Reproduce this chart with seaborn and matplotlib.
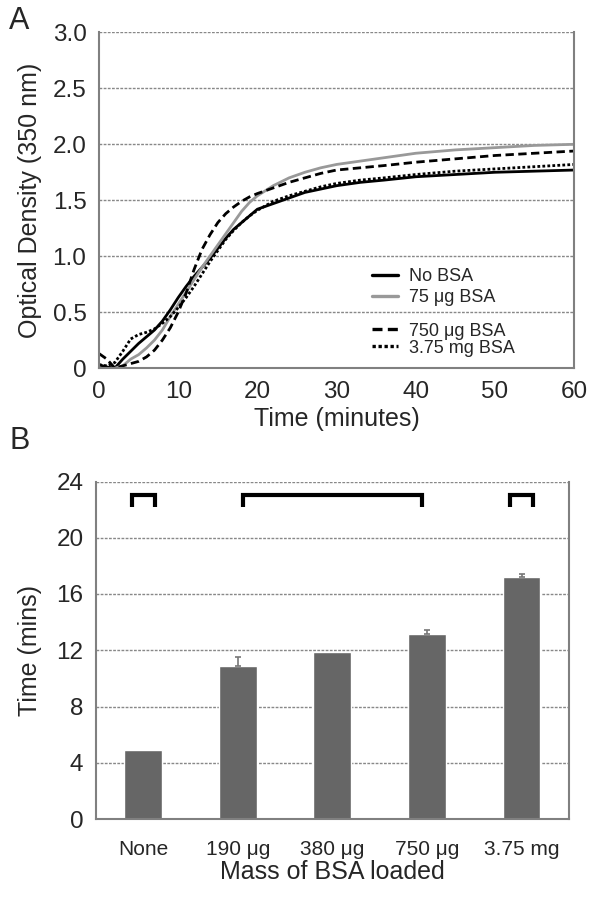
import numpy as np
import pandas as pd
import matplotlib
matplotlib.use("Agg")
import matplotlib.pyplot as plt
import seaborn as sns
from matplotlib.lines import Line2D

# --------------------------------------------------------------
# Data
# --------------------------------------------------------------
time_min = [0, 1, 2, 3, 4, 5, 6, 7, 8, 9, 10, 11, 12, 13, 14, 15, 16, 17, 18, 19, 20,
            22, 24, 26, 28, 30, 33, 36, 40, 45, 50, 55, 60]

od_no_bsa = [0.03, 0.01, 0.00, 0.08, 0.15, 0.22, 0.28, 0.34, 0.42, 0.52, 0.63, 0.73, 0.82,
             0.90, 0.98, 1.07, 1.16, 1.24, 1.30, 1.36, 1.42, 1.47, 1.52, 1.57, 1.60, 1.63,
             1.66, 1.68, 1.71, 1.73, 1.75, 1.76, 1.77]
od_75ug = [np.nan, np.nan, 0.00, 0.02, 0.08, 0.12, 0.18, 0.25, 0.34, 0.46, 0.57, 0.68, 0.79,
           0.90, 1.00, 1.10, 1.20, 1.30, 1.40, 1.48, 1.54, 1.63, 1.70, 1.75, 1.79, 1.82,
           1.85, 1.88, 1.92, 1.95, 1.97, 1.99, 2.00]
od_750ug = [0.13, 0.08, 0.00, 0.02, 0.04, 0.06, 0.10, 0.16, 0.25, 0.36, 0.50, 0.67, 0.88,
            1.06, 1.19, 1.30, 1.38, 1.44, 1.49, 1.53, 1.56, 1.61, 1.66, 1.70, 1.74, 1.77,
            1.79, 1.81, 1.84, 1.87, 1.90, 1.92, 1.94]
od_375mg = [0.03, 0.02, 0.05, 0.15, 0.26, 0.30, 0.32, 0.35, 0.40, 0.46, 0.54, 0.63, 0.73,
            0.84, 0.95, 1.05, 1.15, 1.23, 1.30, 1.36, 1.41, 1.49, 1.54, 1.58, 1.62, 1.65,
            1.68, 1.70, 1.73, 1.76, 1.78, 1.80, 1.82]

series_names = ["No BSA", "75 \u03bcg BSA", "750 \u03bcg BSA", "3.75 mg BSA"]
series_values = [od_no_bsa, od_75ug, od_750ug, od_375mg]
series_colors = ["black", "#999999", "black", "black"]
series_styles = ["-", "-", (0, (3, 1.6)), (0, (1, 0.8))]

od_ticks = [0, 0.5, 1.0, 1.5, 2.0, 2.5, 3.0]
od_tick_labels = ["0", "0.5", "1.0", "1.5", "2.0", "2.5", "3.0"]

bsa_mass = ["None", "190 \u03bcg", "380 \u03bcg", "750 \u03bcg", "3.75 mg"]
lag_time = [4.9, 10.9, 11.9, 13.15, 17.2]
lag_err = [0.0, 0.6, 0.0, 0.3, 0.25]

# groups marked by brackets: (first category, last category)
bracket_groups = [(0, 0), (1, 3), (4, 4)]

# --------------------------------------------------------------
# Style
# --------------------------------------------------------------
sns.set_style("white")
plt.rcParams["font.family"] = ["Liberation Sans", "DejaVu Sans"]
spine_gray = "#808080"

fig = plt.figure(figsize=(6, 9), dpi=100)
ax_a = fig.add_axes([0.165, 0.591, 0.792, 0.373])
ax_b = fig.add_axes([0.160, 0.090, 0.788, 0.375])


def style_axes(ax):
    for side in ["left", "right", "bottom"]:
        ax.spines[side].set_color(spine_gray)
        ax.spines[side].set_linewidth(1.5)
    ax.spines["top"].set_visible(False)
    ax.yaxis.grid(True, linestyle=(0, (2, 1)), color="#888888", linewidth=1)
    ax.set_axisbelow(True)
    ax.tick_params(axis="both", direction="out", length=4, width=1.2,
                   color=spine_gray, labelsize=17.5, pad=5)


# --------------------------------------------------------------
# Panel A: turbidity curves
# --------------------------------------------------------------
for name, vals, col, ls in zip(series_names, series_values, series_colors, series_styles):
    df = pd.DataFrame({"Time": time_min, "OD": vals})
    sns.lineplot(data=df, x="Time", y="OD", ax=ax_a, color=col, linestyle=ls,
                 linewidth=2.0, label=None)

style_axes(ax_a)
ax_a.set_xlim(0, 60)
ax_a.set_ylim(0, 3.0)
ax_a.set_xticks([0, 10, 20, 30, 40, 50, 60])
ax_a.set_yticks(od_ticks)
ax_a.set_yticklabels(od_tick_labels)
ax_a.set_xlabel("Time (minutes)", fontsize=18, labelpad=3)
ax_a.set_ylabel("Optical Density (350 nm)", fontsize=18, labelpad=8)

handles = [Line2D([0], [0], color=c, linestyle=s, linewidth=2.4)
           for c, s in zip(series_colors, series_styles)]
leg1 = ax_a.legend(handles[:2], series_names[:2], loc="upper left",
                   bbox_to_anchor=(0.575, 0.297), frameon=False, fontsize=13,
                   handlelength=1.45, handletextpad=0.6, labelspacing=0.2,
                   borderaxespad=0, borderpad=0)
ax_a.add_artist(leg1)
ax_a.legend(handles[2:], series_names[2:], loc="upper left",
            bbox_to_anchor=(0.575, 0.135), frameon=False, fontsize=13,
            handlelength=1.45, handletextpad=0.6, labelspacing=0.0,
            borderaxespad=0, borderpad=0)

fig.text(0.015, 0.977, "A", fontsize=22, va="center", ha="left")

# --------------------------------------------------------------
# Panel B: lag times
# --------------------------------------------------------------
bars = pd.DataFrame({"Mass": bsa_mass, "Time": lag_time})
sns.barplot(data=bars, x="Mass", y="Time", ax=ax_b, color="#666666",
            saturation=1, width=0.4, errorbar=None)
xpos = np.arange(len(bsa_mass))
has_err = np.array(lag_err) > 0
ax_b.errorbar(xpos[has_err], np.array(lag_time)[has_err],
              yerr=[np.zeros(has_err.sum()), np.array(lag_err)[has_err]], fmt="none",
              ecolor="#777777", elinewidth=1.2, capsize=2, capthick=1.2)

# brackets grouping the bars
for first, last in bracket_groups:
    pad = 0.12 if first == last else -0.05
    x0, x1 = first - pad, last + pad
    ax_b.plot([x0, x0, x1, x1], [22.2, 23.05, 23.05, 22.2], color="black",
              linewidth=3.0, solid_joinstyle="miter", solid_capstyle="butt")

style_axes(ax_b)
ax_b.set_xlim(-0.5, len(bsa_mass) - 0.5)
ax_b.set_ylim(0, 24)
ax_b.set_yticks([0, 4, 8, 12, 16, 20, 24])
ax_b.set_xticks(np.arange(-0.5, len(bsa_mass), 1.0), minor=True)
ax_b.tick_params(axis="x", which="major", length=0, labelsize=15, pad=15)
ax_b.tick_params(axis="x", which="minor", direction="out", length=5, width=1.2,
                 color=spine_gray)
ax_b.set_xlabel("Mass of BSA loaded", fontsize=18, labelpad=1)
ax_b.set_ylabel("Time (mins)", fontsize=18, labelpad=10)

fig.text(0.015, 0.51, "B", fontsize=22, va="center", ha="left")

plt.savefig("out.png", dpi=100)
